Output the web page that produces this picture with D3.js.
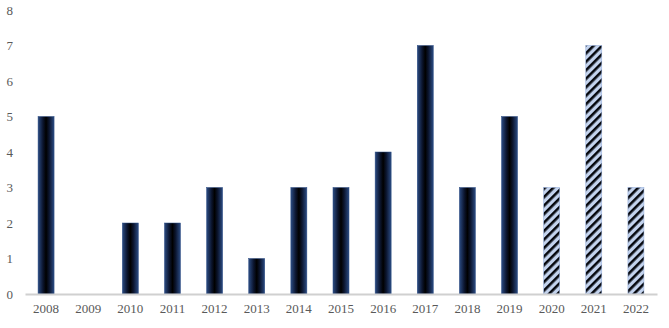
<!DOCTYPE html>
<html>
<head>
<meta charset="utf-8">
<script src="https://cdn.jsdelivr.net/npm/d3@7"></script>
<style>
  body { margin: 0; background: #fff; }
  .axis text { font-family: "Liberation Serif", "Times New Roman", serif; fill: #595959; }
</style>
</head>
<body>
<svg id="chart"></svg>
<script>
// Data
const years = ["2008", "2009", "2010", "2011", "2012", "2013", "2014", "2015", "2016", "2017", "2018", "2019", "2020", "2021", "2022"];
const counts = [5, 0, 2, 2, 3, 1, 3, 3, 4, 7, 3, 5, 3, 7, 3];
const hatchedYears = ["2020", "2021", "2022"];
const yTicks = [0, 1, 2, 3, 4, 5, 6, 7, 8];

const width = 669, height = 328;
const margin = { top: 10, right: 12, bottom: 34, left: 25 };

const svg = d3.select("#chart").attr("width", width).attr("height", height);

const defs = svg.append("defs");

// dark bars: navy edges fading to a black centre
const grad = defs.append("linearGradient").attr("id", "barGrad")
    .attr("x1", "0%").attr("x2", "100%").attr("y1", "0%").attr("y2", "0%");
grad.append("stop").attr("offset", "0%").attr("stop-color", "#2b4b82");
grad.append("stop").attr("offset", "30%").attr("stop-color", "#0c1630");
grad.append("stop").attr("offset", "50%").attr("stop-color", "#000000");
grad.append("stop").attr("offset", "70%").attr("stop-color", "#0c1630");
grad.append("stop").attr("offset", "100%").attr("stop-color", "#2b4b82");

// hatched bars for the last years
const pat = defs.append("pattern").attr("id", "hatch")
    .attr("patternUnits", "userSpaceOnUse")
    .attr("width", 6).attr("height", 6)
    .attr("patternTransform", "rotate(45)");
pat.append("rect").attr("width", 6).attr("height", 6).attr("fill", "#c3d3ee");
pat.append("rect").attr("x", 0).attr("y", 0).attr("width", 2.6).attr("height", 6).attr("fill", "#05070d");

const innerW = width - margin.left - margin.right;
const innerH = height - margin.top - margin.bottom;

const chart = svg.append("g").attr("transform", `translate(${margin.left},${margin.top})`);

const xScale = d3.scaleBand().domain(years).range([0, innerW]).paddingInner(0.62).paddingOuter(0.31);
const yScale = d3.scaleLinear().domain([0, 8]).range([innerH, 0]);

// bars
chart.selectAll(".bar")
    .data(years.map((y, i) => ({ year: y, count: counts[i] })))
    .join("rect")
    .attr("class", "bar")
    .attr("x", d => xScale(d.year))
    .attr("width", xScale.bandwidth())
    .attr("y", d => yScale(d.count))
    .attr("height", d => innerH - yScale(d.count))
    .attr("fill", d => hatchedYears.includes(d.year) ? "url(#hatch)" : "url(#barGrad)")
    .attr("stroke", d => hatchedYears.includes(d.year) ? "#8eaadb" : "#2b4b82")
    .attr("stroke-width", 0.5);

// y axis (labels only)
const yAxisG = chart.append("g").attr("class", "axis y-axis")
    .call(d3.axisLeft(yScale).tickValues(yTicks).tickSize(0).tickPadding(12));
yAxisG.select(".domain").remove();
yAxisG.selectAll("text").attr("font-size", 13);

// x axis
const xAxisG = chart.append("g").attr("class", "axis x-axis")
    .attr("transform", `translate(0,${innerH})`)
    .call(d3.axisBottom(xScale).tickSize(0).tickSizeOuter(0).tickPadding(10));
xAxisG.select(".domain").attr("stroke", "#d0d0d0").attr("stroke-width", 2);
xAxisG.selectAll("text").attr("font-size", 13);
</script>
</body>
</html>
